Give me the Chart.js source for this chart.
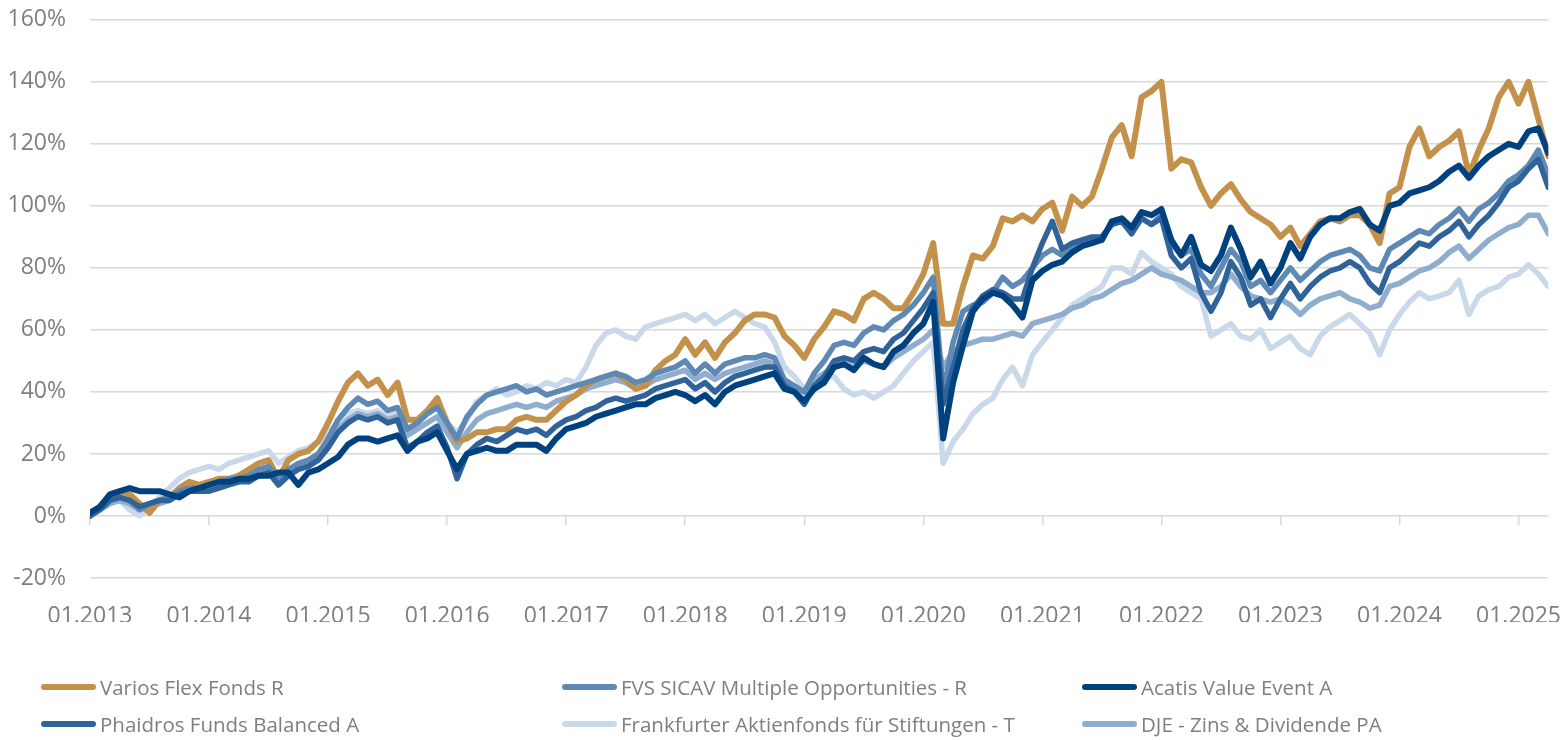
<!DOCTYPE html>
<html>
<head>
<meta charset="utf-8">
<script src="https://cdn.jsdelivr.net/npm/chart.js@4.4.1/dist/chart.umd.min.js"></script>
<style>
  body { margin: 0; background: #fff; width: 1566px; height: 740px; overflow: hidden; font-family: 'Open Sans', sans-serif; position: relative; }
  #wrap { position: absolute; left: 0; top: 0; width: 1700px; height: 700px; }
  #legend { position: absolute; left: 0; top: 0; width: 1566px; height: 740px; pointer-events: none; }
  .item { position: absolute; display: flex; align-items: center; color: #7f7f7f; font-size: 20.5px; white-space: nowrap; height: 28px; }
  .swatch { width: 55px; height: 6px; border-radius: 3px; margin-right: 4px; }
</style>
</head>
<body>
<div id="wrap"><canvas id="perf" width="1586" height="640"></canvas></div>
<div id="legend"></div>
<script>
// Wertentwicklung seit 01.2013, monthly readings (Jan 2013 .. Apr 2025), in %
const yearTicks = ['01.2013', '01.2014', '01.2015', '01.2016', '01.2017', '01.2018', '01.2019',
                   '01.2020', '01.2021', '01.2022', '01.2023', '01.2024', '01.2025'];

const seriesNames = [
    'Varios Flex Fonds R',
    'FVS SICAV Multiple Opportunities - R',
    'Acatis Value Event A',
    'Phaidros Funds Balanced A',
    'Frankfurter Aktienfonds für Stiftungen - T',
    'DJE - Zins & Dividende PA'
];
const seriesColors = ['#C4914A', '#5F89B5', '#00427F', '#2F6399', '#C9D9E9', '#8FADCE'];

const varios = [
    0, 3, 6, 8, 7, 4, 1, 5, 6, 9, 11, 10,
    11, 12, 12, 13, 15, 17, 18, 12, 18, 20, 21, 24,
    30, 37, 43, 46, 42, 44, 39, 43, 31, 31, 34, 38,
    30, 24, 25, 27, 27, 28, 28, 31, 32, 31, 31, 34,
    37, 39, 42, 44, 45, 46, 44, 41, 42, 47, 50, 52,
    57, 52, 56, 51, 56, 59, 63, 65, 65, 64, 58, 55,
    51, 57, 61, 66, 65, 63, 70, 72, 70, 67, 67, 72,
    78, 88, 62, 62, 74, 84, 83, 87, 96, 95, 97, 95,
    99, 101, 92, 103, 100, 103, 112, 122, 126, 116, 135, 137,
    140, 112, 115, 114, 106, 100, 104, 107, 102, 98, 96, 94,
    90, 93, 87, 91, 95, 96, 95, 97, 97, 94, 88, 104,
    106, 119, 125, 116, 119, 121, 124, 110, 118, 125, 135, 140,
    133, 140, 128, 116
];
const fvs = [
    0, 3, 5, 6, 5, 2, 4, 5, 6, 8, 9, 9,
    10, 11, 12, 12, 13, 15, 16, 12, 15, 17, 18, 20,
    25, 31, 35, 38, 36, 37, 34, 35, 28, 30, 33, 35,
    30, 25, 32, 36, 39, 40, 41, 42, 40, 41, 39, 40,
    41, 42, 43, 44, 45, 46, 45, 43, 44, 46, 47, 48,
    50, 46, 49, 46, 49, 50, 51, 51, 52, 51, 44, 42,
    40, 46, 50, 55, 56, 55, 59, 61, 60, 63, 65, 68,
    72, 77, 40, 56, 66, 68, 69, 72, 77, 74, 76, 80,
    84, 86, 84, 86, 88, 89, 90, 94, 95, 92, 96, 94,
    97, 88, 84, 86, 78, 74, 80, 86, 82, 74, 76, 72,
    76, 80, 76, 79, 82, 84, 85, 86, 84, 80, 79, 86,
    88, 90, 92, 91, 94, 96, 99, 95, 99, 101, 104, 108,
    110, 113, 118, 110
];
const acatis = [
    1, 3, 7, 8, 9, 8, 8, 8, 7, 6, 8, 9,
    10, 11, 11, 12, 12, 13, 13, 14, 14, 10, 14, 15,
    17, 19, 23, 25, 25, 24, 25, 26, 21, 24, 25, 27,
    21, 15, 20, 21, 22, 21, 21, 23, 23, 23, 21, 25,
    28, 29, 30, 32, 33, 34, 35, 36, 36, 38, 39, 40,
    39, 37, 39, 36, 40, 42, 43, 44, 45, 46, 41, 40,
    37, 41, 43, 48, 49, 47, 51, 49, 48, 53, 55, 59,
    62, 69, 25, 43, 55, 66, 70, 72, 71, 68, 64, 76,
    79, 81, 82, 85, 87, 88, 89, 95, 96, 93, 98, 97,
    99, 89, 84, 90, 81, 79, 84, 93, 86, 77, 82, 75,
    80, 88, 83, 90, 94, 96, 96, 98, 99, 94, 92, 100,
    101, 104, 105, 106, 108, 111, 113, 109, 113, 116, 118, 120,
    119, 124, 125, 117
];
const phaidros = [
    0, 2, 5, 6, 5, 3, 4, 5, 5, 7, 8, 8,
    8, 9, 10, 11, 11, 13, 14, 10, 13, 15, 16, 18,
    22, 27, 30, 32, 31, 32, 30, 31, 22, 24, 27, 29,
    22, 12, 20, 23, 25, 24, 26, 28, 27, 28, 26, 29,
    31, 32, 34, 35, 37, 38, 37, 38, 39, 41, 42, 43,
    44, 41, 43, 40, 43, 45, 46, 47, 48, 48, 42, 40,
    36, 42, 45, 50, 51, 50, 53, 54, 53, 57, 59, 63,
    67, 72, 36, 48, 60, 67, 71, 73, 72, 70, 70, 80,
    88, 95, 86, 88, 89, 90, 90, 94, 95, 91, 96, 94,
    96, 84, 80, 83, 72, 66, 72, 82, 77, 68, 70, 64,
    70, 75, 70, 74, 77, 79, 80, 82, 80, 75, 72, 80,
    82, 85, 88, 87, 90, 92, 95, 90, 94, 97, 101, 106,
    108, 112, 115, 106
];
const frankfurter = [
    0, 2, 4, 5, 2, 0, 3, 6, 9, 12, 14, 15,
    16, 15, 17, 18, 19, 20, 21, 17, 19, 21, 22, 24,
    27, 30, 33, 34, 33, 34, 32, 33, 28, 30, 33, 35,
    30, 27, 31, 37, 39, 41, 39, 40, 42, 41, 43, 42,
    44, 43, 48, 55, 59, 60, 58, 57, 61, 62, 63, 64,
    65, 63, 65, 62, 64, 66, 64, 62, 61, 56, 48, 45,
    41, 43, 45, 45, 41, 39, 40, 38, 40, 42, 46, 50,
    53, 56, 17, 24, 28, 33, 36, 38, 44, 48, 42, 52,
    56, 60, 64, 68, 70, 72, 74, 80, 80, 78, 85, 82,
    80, 78, 74, 72, 70, 58, 60, 62, 58, 57, 60, 54,
    56, 58, 54, 52, 58, 61, 63, 65, 62, 59, 52, 60,
    65, 69, 72, 70, 71, 72, 76, 65, 71, 73, 74, 77,
    78, 81, 78, 74
];
const dje = [
    0, 2, 4, 5, 4, 2, 3, 4, 5, 7, 8, 8,
    9, 10, 11, 11, 12, 14, 15, 11, 14, 16, 17, 19,
    23, 28, 31, 33, 32, 33, 31, 32, 26, 28, 30, 32,
    27, 22, 27, 31, 33, 34, 35, 36, 35, 36, 35, 37,
    38, 39, 41, 42, 43, 44, 43, 41, 42, 44, 45, 46,
    47, 44, 46, 44, 46, 47, 48, 49, 50, 49, 43, 41,
    40, 44, 46, 48, 49, 48, 50, 49, 48, 51, 53, 55,
    57, 60, 48, 53, 55, 56, 57, 57, 58, 59, 58, 62,
    63, 64, 65, 67, 68, 70, 71, 73, 75, 76, 78, 80,
    78, 77, 76, 74, 72, 72, 74, 78, 74, 71, 70, 69,
    70, 68, 65, 68, 70, 71, 72, 70, 69, 67, 68, 74,
    75, 77, 79, 80, 82, 85, 87, 83, 86, 89, 91, 93,
    94, 97, 97, 91
];

const allSeries = [varios, fvs, acatis, phaidros, frankfurter, dje];
// lower order = drawn on top
const drawOrder = [4, 3, 0, 1, 6, 5];
const lastIndex = varios.length - 1;

// target plot box on the page
const plotTop = 20, plotBottom = 578, plotLeft = 90, plotRight = 1548;

const yearTickValues = scale => {
    scale.ticks = yearTicks.map((_, i) => ({ value: i * 12 }));
};

const datasets = allSeries.map((vals, k) => ({
    label: seriesNames[k],
    data: vals.map((v, i) => ({ x: i, y: v })),
    borderColor: seriesColors[k],
    backgroundColor: seriesColors[k],
    borderWidth: k === 0 || k === 2 ? 6 : 5.5,
    pointRadius: 0,
    tension: 0,
    order: drawOrder[k],
    borderJoinStyle: 'round',
    borderCapStyle: 'round'
}));

const tickFont = { family: "'Open Sans', sans-serif", size: 23 };

const chart = new Chart(document.getElementById('perf').getContext('2d'), {
    type: 'line',
    data: { datasets: datasets },
    options: {
        responsive: false,
        animation: false,
        layout: { padding: { top: 3, right: 0, bottom: 0, left: 0 } },
        plugins: {
            legend: { display: false },
            tooltip: { enabled: false }
        },
        scales: {
            x: {
                type: 'linear',
                position: 'bottom',
                min: 0,
                max: lastIndex,
                afterBuildTicks: yearTickValues,
                afterFit: scale => { scale.height = 44; },
                grid: { display: false, drawTicks: false },
                border: { display: false },
                ticks: {
                    autoSkip: false,
                    maxRotation: 0,
                    padding: 25,
                    color: '#7f7f7f',
                    font: tickFont,
                    callback: v => yearTicks[Math.round(v / 12)]
                }
            },
            xMarks: {
                type: 'linear',
                axis: 'x',
                position: { y: 0 },
                min: 0,
                max: lastIndex,
                afterBuildTicks: yearTickValues,
                grid: {
                    drawOnChartArea: false,
                    drawTicks: true,
                    tickLength: 9,
                    color: '#d9d9d9',
                    lineWidth: 1.5
                },
                border: { display: false },
                ticks: { display: false }
            },
            y: {
                min: -20,
                max: 160,
                afterFit: scale => { scale.width = 90; },
                grid: { color: '#d9d9d9', lineWidth: 1.5, drawTicks: false },
                border: { display: false },
                ticks: {
                    stepSize: 20,
                    padding: 24,
                    color: '#7f7f7f',
                    font: tickFont,
                    callback: v => v + '%'
                }
            }
        }
    }
});

// nudge canvas size so the plot box lands where the original has it
for (let i = 0; i < 4; i++) {
    const ca = chart.chartArea;
    const w = Math.round(chart.width + (plotRight - plotLeft) - (ca.right - ca.left));
    const h = Math.round(chart.height + (plotBottom - plotTop) - (ca.bottom - ca.top));
    if (w === chart.width && h === chart.height) break;
    chart.resize(w, h);
    chart.update();
}
const wrap = document.getElementById('wrap');
wrap.style.top = (plotTop - chart.chartArea.top) + 'px';
wrap.style.left = (plotLeft - chart.chartArea.left) + 'px';

// legend: three columns, two rows
const legendCols = [41, 562, 1082];
const legendRows = [687, 724];
const legendBox = document.getElementById('legend');
seriesNames.forEach((name, k) => {
    const item = document.createElement('div');
    item.className = 'item';
    item.style.left = legendCols[k % 3] + 'px';
    item.style.top = (legendRows[Math.floor(k / 3)] - 14) + 'px';
    const sw = document.createElement('span');
    sw.className = 'swatch';
    sw.style.background = seriesColors[k];
    const tx = document.createElement('span');
    tx.textContent = name;
    item.appendChild(sw);
    item.appendChild(tx);
    legendBox.appendChild(item);
});
</script>
</body>
</html>
